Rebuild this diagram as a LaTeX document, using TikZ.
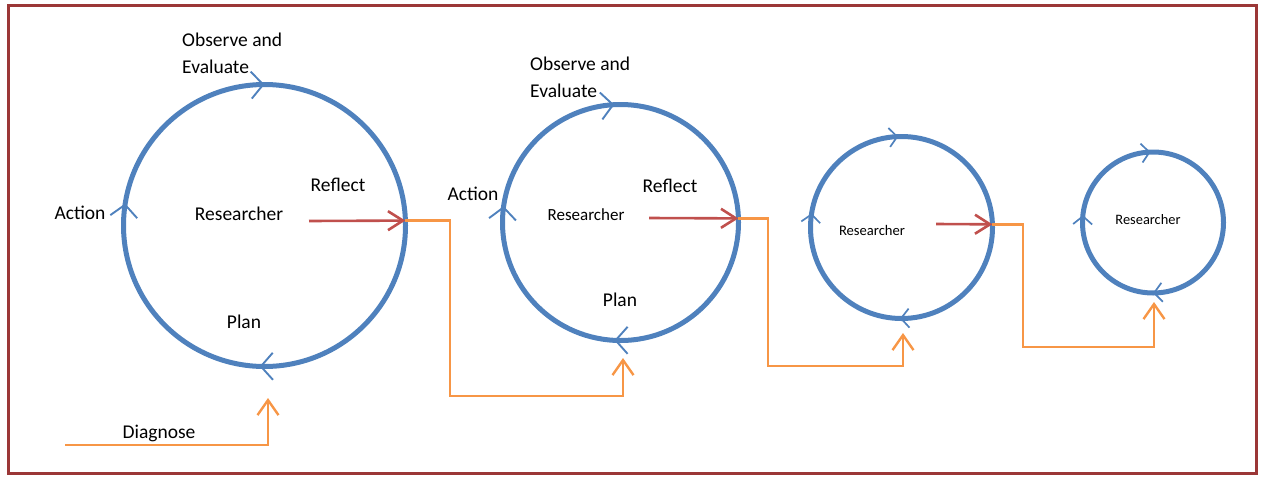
\documentclass[tikz,border=0pt]{standalone}
\usepackage{fontspec}
\setmainfont{Carlito}
\usetikzlibrary{positioning,calc,arrows.meta}
\definecolor{cycblue}{RGB}{79,129,189}
\definecolor{refred}{RGB}{192,80,77}
\definecolor{floworange}{RGB}{247,150,70}
\definecolor{frame}{RGB}{155,55,55}

\begin{document}
\begin{tikzpicture}[x=1pt, y=-1pt,
	cyc/.style={circle, draw=cycblue, line width=5pt, outer sep=0pt, inner sep=0pt},
	tick/.style={draw=cycblue, line width=1.9pt, -{Straight Barb[length=12pt,width=27pt]}},
	smalltick/.style={draw=cycblue, line width=1.7pt, -{Straight Barb[length=8pt,width=19pt]}},
	reflectarrow/.style={draw=refred, line width=2.6pt, -{Straight Barb[length=15pt,width=19pt]}},
	flow/.style={draw=floworange, line width=2.4pt, -{Straight Barb[length=15pt,width=21pt]}},
	lbl/.style={font=\fontsize{19.5}{27}\selectfont, inner sep=1pt, align=left}]
	\useasboundingbox (0,0) rectangle (1261,477);
	\draw[frame, line width=3pt] (8,5) rectangle (1256,473);

	% the four cycles
	\node[cyc, minimum size=282pt] (c1) at (264.5,225.5) {};
	\node[cyc, minimum size=236pt] (c2) at (620.5,222.5) {};
	\node[cyc, minimum size=182pt] (c3) at (901.5,227.5) {};
	\node[cyc, minimum size=141pt] (c4) at (1153,222.5) {};

	% direction marks on the cycles
	\foreach \c/\a/\b in {c1/95/90, c1/176/171, c1/273/268, c2/98/93, c2/178/172, c2/273/267}
		\draw[tick] (\c.\a) -- (\c.\b);
	\foreach \c/\a/\b in {c3/99/92, c3/178/171, c3/276/269, c4/101/92, c4/183/174, c4/279/270}
		\draw[smalltick] (\c.\a) -- (\c.\b);

	% labels
	\node[lbl, anchor=west] (obs1) at (181,53.5) {Observe and\\Evaluate};
	\node[lbl] (act1) at (80,213) {Action};
	\node[lbl] (res1) at (239,214) {Researcher};
	\node[lbl] (ref1) at (338,185) {Reflect};
	\node[lbl] (plan1) at (244,322) {Plan};
	\node[lbl, anchor=west] (obs2) at (529,77.5) {Observe and\\Evaluate};
	\node[lbl] (act2) at (473,194) {Action};
	\node[lbl, font=\fontsize{17}{20}\selectfont] (res2) at (586,215) {Researcher};
	\node[lbl] (ref2) at (670,186) {Reflect};
	\node[lbl] (plan2) at (620,300) {Plan};
	\node[lbl, font=\fontsize{14.6}{18}\selectfont] (res3) at (872,230) {Researcher};
	\node[lbl, font=\fontsize{14.4}{18}\selectfont] (res4) at (1148,220) {Researcher};
	\node[lbl] (diag) at (159,433) {Diagnose};

	% reflect arrows
	\coordinate (r1) at (309,221);
	\coordinate (r2) at (649,218);
	\coordinate (r3) at (936,224);
	\draw[reflectarrow] (r1) -- (c1.2);
	\draw[reflectarrow] (r2) -- (c2.2);
	\draw[reflectarrow] (r3) -- (c3.2);

	% flow between the cycles
	\coordinate (d0) at (65,445);
	\coordinate (p1) at (268,398);
	\coordinate (p2) at (623,358);
	\coordinate (p3) at (903,333);
	\coordinate (p4) at (1154,302);
	\draw[flow] (d0) -| (p1);
	\draw[flow] (c1.2) -| (450,396) -| (p2);
	\draw[flow] (c2.2) -| (768,366) -| (p3);
	\draw[flow] (c3.2) -| (1023,347) -| (p4);
\end{tikzpicture}
\end{document}
